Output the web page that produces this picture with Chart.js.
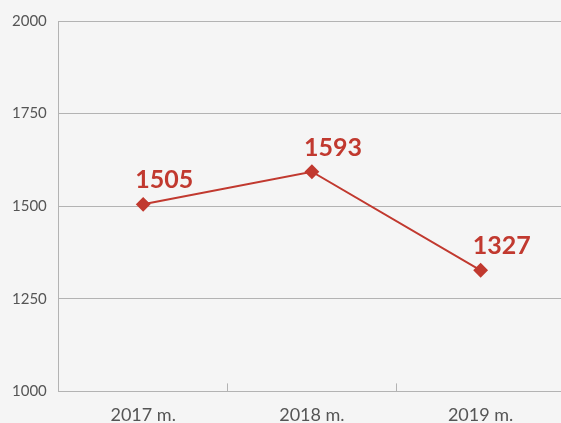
<!DOCTYPE html>
<html>
<head>
<meta charset="utf-8">
<script src="https://cdn.jsdelivr.net/npm/chart.js@4"></script>
<style>
  html, body { margin: 0; padding: 0; background: #f5f5f5; overflow: hidden; }
  #wrap { width: 573px; height: 447px; }
</style>
</head>
<body>
<div id="wrap"><canvas id="chart"></canvas></div>
<script>
const labels = ['2017 m.', '2018 m.', '2019 m.'];
const values = [1505, 1593, 1327];
const yTicks = [1000, 1250, 1500, 1750, 2000];

const red = '#c1392f';
const grey = '#b3b3b3';

// draws the value above each point
const valueLabels = {
  id: 'valueLabels',
  afterDatasetsDraw(chart) {
    const ctx = chart.ctx;
    const meta = chart.getDatasetMeta(0);
    ctx.save();
    ctx.font = 'bold 25px Lato';
    ctx.fillStyle = red;
    ctx.textAlign = 'left';
    ctx.textBaseline = 'alphabetic';
    meta.data.forEach((pt, i) => {
      ctx.fillText(values[i], pt.x - 8, pt.y - 16);
    });
    ctx.restore();
  }
};

new Chart(document.getElementById('chart'), {
  type: 'line',
  data: {
    labels: labels,
    datasets: [{
      data: values,
      borderColor: red,
      backgroundColor: red,
      borderWidth: 2,
      pointStyle: 'rectRot',
      pointRadius: 6,
      pointHoverRadius: 6
    }]
  },
  options: {
    responsive: true,
    maintainAspectRatio: false,
    animation: false,
    layout: { padding: { top: 8, left: 0, right: 0, bottom: 0 } },
    plugins: {
      legend: { display: false },
      tooltip: { enabled: false }
    },
    scales: {
      x: {
        offset: true,
        grid: {
          offset: true,
          drawOnChartArea: false,
          color: grey,
          tickLength: -8
        },
        border: { color: grey, width: 1 },
        ticks: {
          color: '#555',
          font: { family: 'Lato', size: 18 },
          padding: 21
        }
      },
      y: {
        min: 1000,
        max: 2000,
        afterBuildTicks(scale) {
          scale.ticks = yTicks.map(v => ({ value: v }));
        },
        grid: { color: grey, drawTicks: false },
        border: { color: grey, width: 1 },
        ticks: {
          color: '#555',
          font: { family: 'Lato', size: 15 },
          padding: 12,
          callback: v => String(v)
        }
      }
    }
  },
  plugins: [valueLabels]
});
</script>
</body>
</html>
